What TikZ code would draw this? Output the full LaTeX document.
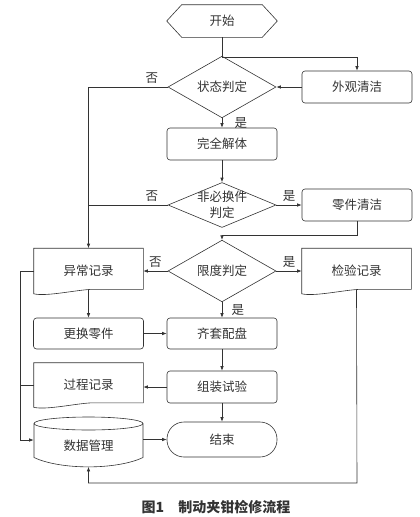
\documentclass[tikz,border=0pt]{standalone}
\usepackage{fontspec}
\setmainfont{Noto Sans CJK SC}
\usetikzlibrary{shapes.geometric,arrows.meta}

\begin{document}
\begin{tikzpicture}[x=1pt,y=-1pt,line width=0.6pt,color=black!80,
	font=\fontsize{12.5}{15.5}\selectfont,
	box/.style={draw,rounded corners=3pt,minimum width=110pt,minimum height=32pt,inner sep=0pt},
	dia/.style={draw,diamond,minimum width=108pt,minimum height=45pt,inner sep=0pt},
	doc/.style={minimum width=109pt,minimum height=45pt,inner sep=0pt},
	arr/.style={-{Latex[length=4.5pt,width=3.5pt]}}]
			\useasboundingbox (0,0) rectangle (420,517);
			\node[minimum width=110pt,minimum height=32pt] (start) at (222,21) {开始};
			\draw (start.west) -- ([xshift=15pt]start.north west) -- ([xshift=-15pt]start.north east) -- (start.east) -- ([xshift=-15pt]start.south east) -- ([xshift=15pt]start.south west) -- cycle;
			\node[box] (clean) at (357,87) {外观清洁};
			\node[dia] (judge) at (222,87) {状态判定};
			\node[box] (strip) at (222,144) {完全解体};
			\node[dia] (check) at (222,205) {};
			\node[align=center] (checkt) at (check) {非必换件\\判定};
			\node[box] (wash) at (357,205) {零件清洁};
			\node[dia] (limit) at (222,271) {限度判定};
			\node[doc] (abn) at (88.5,271) {异常记录};
			\node[doc] (insp) at (356.5,271) {检验记录};
			\node[box,minimum height=31pt] (repl) at (88.5,333.5) {更换零件};
			\node[box,minimum height=31pt] (kit) at (222,333.5) {齐套配盘};
			\node[doc,minimum height=44pt] (proc) at (88.5,385) {过程记录};
			\node[box] (assm) at (222,387) {组装试验};
			\node[minimum width=109pt,minimum height=41pt,inner sep=0pt] (dm) at (88.5,446) {数据管理};
			\node[draw,rounded corners=17pt,minimum width=110pt,minimum height=35pt,inner sep=0pt] (finish) at (222,439.5) {结束};

			% document and database outlines
			\foreach \n in {abn,insp,proc}{
				\draw (\n.south west) .. controls ([shift={(-42,3)}]\n.south) and ([shift={(-12,-4)}]\n.south) .. ([shift={(4,-4.5)}]\n.south) -- ([shift={(0,-4.5)}]\n.south east) -- (\n.north east) -- (\n.north west) -- cycle;
			}
			\draw ([shift={(0,-22.5)}]dm.center) ellipse [x radius=54.5, y radius=6.5];
			\draw ([shift={(-54.5,-22.5)}]dm.center) -- ([shift={(-54.5,11.5)}]dm.center) .. controls ([shift={(-28,24)}]dm.center) and ([shift={(28,24)}]dm.center) .. ([shift={(54.5,11.5)}]dm.center) -- ([shift={(54.5,-22.5)}]dm.center);

			\coordinate (j1) at (222,57);
			\coordinate (j2) at (357,235);
			\coordinate (b1) at (20,440);
			\coordinate (b2) at (357,483);
			\draw[arr] (start) -- (j1) -| (clean);
			\draw[arr] (clean) -- (judge);
			\draw[arr] (judge) -| (abn) node[pos=0.1,above] {否};
			\draw[arr] (judge) -- (strip) node[midway,right=9pt] {是};
			\draw[arr] (strip) -- (check);
			\draw (check) -- (check -| abn) node[pos=0.2,above] {否};
			\draw[arr] (check) -- (wash) node[midway,above] {是};
			\draw[arr] (wash) -- (j2) -| (limit);
			\draw[arr] (limit) -- (abn) node[midway,above] {否};
			\draw[arr] (limit) -- (insp) node[midway,above] {是};
			\draw[arr] (limit) -- (kit) node[midway,right=6pt] {是};
			\draw[arr] ([yshift=4pt]abn.south) -- (repl);
			\draw[arr] (repl) -- (kit);
			\draw[arr] (kit) -- (assm);
			\draw[arr] (assm) -- (assm -| proc.east);
			\draw[arr] (assm) -- (finish);
			\draw[arr] (dm.east |- finish) -- (finish);
			\draw[arr] (abn.west) -| (b1) -- (dm.west |- b1);
			\draw (proc.west) -- (proc.west -| b1);
			\draw[arr] ([yshift=4pt]insp.south) -- (b2) -| (dm.south);
			\node[font=\fontsize{14}{16}\selectfont\bfseries] (cap) at (216,507) {图1\quad 制动夹钳检修流程};
\end{tikzpicture}
\end{document}
